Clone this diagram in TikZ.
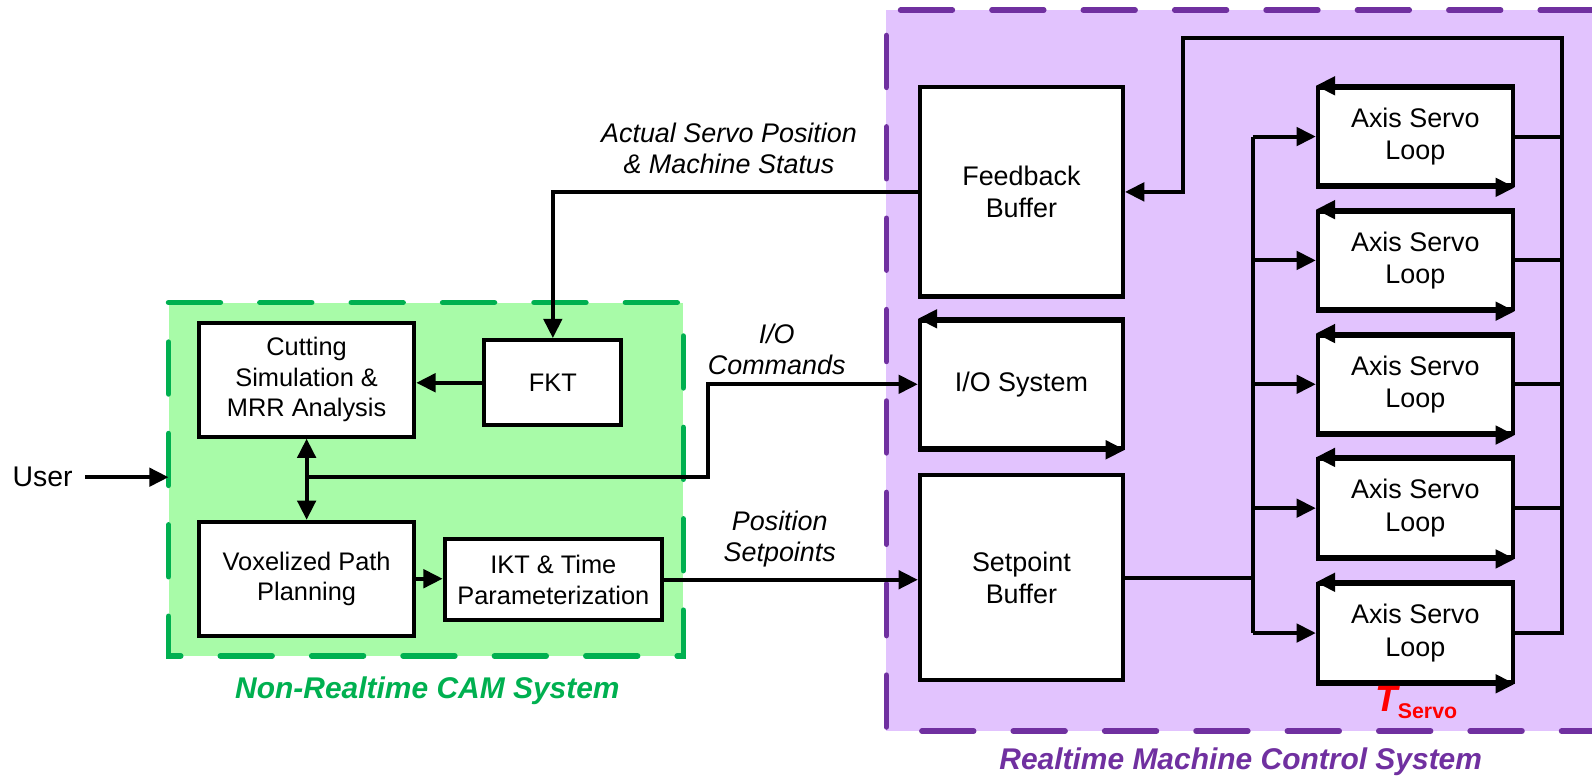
\documentclass[tikz,border=0pt]{standalone}
\usepackage{fontspec}
\setmainfont{Liberation Sans}
\usetikzlibrary{arrows.meta}
\definecolor{gfill}{RGB}{168,251,168}
\definecolor{gline}{RGB}{0,176,80}
\definecolor{pfill}{RGB}{226,195,254}
\definecolor{pline}{RGB}{112,48,160}
\begin{document}
\begin{tikzpicture}[x=0.5pt,y=-0.5pt,
  box/.style={draw, fill=white, line width=2pt, inner sep=0pt, align=center,
              font=\fontsize{13.25}{16}\selectfont},
  lbox/.style={box, font=\fontsize{12.5}{15}\selectfont},
  conn/.style={line width=2pt},
  tip/.tip={Triangle[length=9.5pt,width=9pt]},
  arr/.style={conn, -tip},
  arrr/.style={conn, tip-tip},
  lbl/.style={align=center, font=\fontsize{13.25}{15.5}\selectfont\itshape},
  zone/.style={line width=2.75pt, line cap=round, dash pattern=on 25.5pt off 19.5pt},
  title/.style={font=\fontsize{14.75}{17}\selectfont\bfseries\itshape}
]
\useasboundingbox (0,0) rectangle (1568,766);

% zones
\fill[pfill] (873,10) rectangle (1568,720);
\draw[zone, pline] (1568,10) -- (873,10) -- (873,720) -- (1568,720);
\fill[gfill] (166,298) rectangle (673,646);
\draw[zone, gline] (166,298) -- (673,298) -- (673,646) -- (166,646) -- cycle;

% CAM nodes
\node[lbox, minimum width=106pt, minimum height=56pt] (cut) at (302,374) {Cutting\\Simulation \&\\MRR Analysis};
\node[lbox, minimum width=67.5pt, minimum height=42pt] (fkt) at (544.5,377) {FKT};
\node[lbox, minimum width=106pt, minimum height=56pt] (vox) at (302,570) {Voxelized Path\\Planning};
\node[lbox, minimum width=107pt, minimum height=40pt] (ikt) at (545,571) {IKT \& Time\\Parameterization};

% realtime nodes
\node[box, minimum width=100pt, minimum height=103pt] (fb) at (1006,189) {Feedback\\Buffer};
\node[box, minimum width=100pt, minimum height=62.5pt] (io) at (1006,378.5) {I/O System};
\node[box, minimum width=100pt, minimum height=101pt] (sp) at (1006,569) {Setpoint\\Buffer};
\foreach \i/\y in {1/134.5,2/256.5,3/378.5,4/500.5,5/623.5}{
  \node[box, minimum width=96pt, minimum height=48pt] (ax\i) at (1394,\y) {Axis Servo\\Loop};
  \draw[arr] (ax\i.north east) -- (ax\i.north west);
  \draw[arr] (ax\i.south west) -- (ax\i.south east);
}
\draw[arr] (io.north east) -- (io.north west);
\draw[arr] (io.south west) -- (io.south east);

% user
\node[font=\fontsize{14}{16}\selectfont, inner sep=0pt] (user) at (42,470) {User};
\coordinate (gl) at (166,470);
\draw[arr] ([xshift=6pt]user.east) -- (gl);

% CAM connectors
\draw[arr] (fb.west) -| (fkt.north);
\draw[arr] (fkt.west) -- (fkt.west -| cut.east);
\draw[arrr] (cut.south) -- (vox.north);
\coordinate (j) at (302,470);
\coordinate (bend) at (697,470);
\draw[arr] (j) -- (bend) -- (bend |- io.west) -- (io.west);
\draw[arr] (vox.east) -- (vox.east -| ikt.west);
\draw[arr] (ikt.east) -- (ikt.east -| sp.west);

% servo buses
\coordinate (busL) at (1234,0);
\draw[conn] (sp.east) -- (sp.east -| busL);
\draw[conn] (busL |- ax1.west) -- (busL |- ax5.west);
\foreach \i in {1,...,5}{
  \draw[arr] (busL |- ax\i.west) -- (ax\i.west);
}
\coordinate (busR) at (1538,37);
\coordinate (top) at (1165,37);
\foreach \i in {1,...,4}{
  \draw[conn] (ax\i.east) -- (ax\i.east -| busR);
}
\draw[arr] (ax5.east) -| (busR) -- (top) |- (fb.east);

% labels
\node[lbl] (lfb) at (718,146) {Actual Servo Position\\\& Machine Status};
\node[lbl] (lio) at (765,344) {I/O\\Commands};
\node[lbl] (lsp) at (768,531) {Position\\Setpoints};
\node[title, text=gline] (tcam) at (421,680) {Non-Realtime CAM System};
\node[title, text=pline] (trt) at (1222,750) {Realtime Machine Control System};
\node[text=red, inner sep=0pt] (ts) at (1395,692) {{\fontsize{18}{20}\selectfont\bfseries\itshape T}\raisebox{-3.5pt}{\fontsize{10.5}{12}\selectfont\bfseries Servo}};
\end{tikzpicture}
\end{document}
